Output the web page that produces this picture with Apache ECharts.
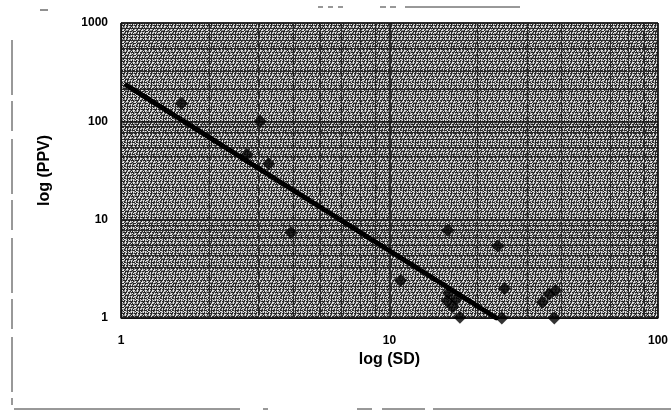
<!DOCTYPE html>
<html>
<head>
<meta charset="utf-8">
<script src="https://cdn.jsdelivr.net/npm/echarts@6/dist/echarts.min.js"></script>
<style>
  html, body { margin: 0; padding: 0; background: #fff; }
  #chart { width: 671px; height: 413px; }
</style>
</head>
<body>
<div id="chart"></div>
<script>
// 散点数据 (SD, PPV)
var sdValues  = [1.68, 3.3, 2.95, 3.55, 4.3, 11.0, 16.5, 16.4, 16.6, 17.2, 17.7, 18.3, 25.3, 26.8, 26.2, 37.1, 39.3, 41.5, 41.1];
var ppvValues = [152, 100, 46, 37, 7.4, 2.4, 7.8, 1.5, 1.8, 1.3, 1.55, 1.02, 5.4, 2.0, 1.0, 1.45, 1.75, 1.9, 1.0];
// 趋势线两端
var trendSD  = [1.05, 25];
var trendPPV = [232, 1];
var xTicks = [1, 10, 100];
var yTicks = [1, 10, 100, 1000];

var points = sdValues.map(function (v, i) { return [v, ppvValues[i]]; });
var trend = trendSD.map(function (v, i) { return [v, trendPPV[i]]; });

// 扫描网点底纹 (固定图案)
var tileRows = [
    'kwgwkgwkgwgw',
    'kgkkkwkkgkkk',
    'gwwkgwgkwwgk',
    'kwgggwkgwgkw',
    'kkgkkkkwkkgk',
    'wkgwgkwwgkwg',
    'kgwwkgggkwwg',
    'gkkkwkkkkgkk',
    'gkwwgkwkgwgw',
    'kwggkgwkwgkw',
    'kkkwkkgkkkkg',
    'gwgkwwgkwkgw'
];
var tile = document.createElement('canvas');
tile.width = 12; tile.height = 12;
var tctx = tile.getContext('2d');
var tcol = { k: '#262626', g: '#8c8c8c', w: '#e6e6e6' };
tileRows.forEach(function (row, y) {
    for (var x = 0; x < row.length; x++) {
        tctx.fillStyle = tcol[row[x]];
        tctx.fillRect(x, y, 1, 1);
    }
});

var labelFont = { color: '#000', fontFamily: 'Liberation Sans', fontWeight: 'bold', fontSize: 12 };

var myChart = echarts.init(document.getElementById('chart'));
myChart.setOption({
    animation: false,
    backgroundColor: '#fff',
    grid: {
        left: 121, right: 12, top: 23, bottom: 95,
        show: true,
        backgroundColor: { image: tile, repeat: 'repeat' },
        borderColor: '#111',
        borderWidth: 1
    },
    xAxis: {
        type: 'log',
        logBase: 10,
        min: 1,
        max: 100,
        name: 'log (SD)',
        nameLocation: 'middle',
        nameGap: 33,
        nameTextStyle: { color: '#000', fontFamily: 'Liberation Sans', fontWeight: 'bold', fontSize: 16 },
        axisLine: { show: true, lineStyle: { color: '#111' } },
        axisTick: { show: false },
        axisLabel: Object.assign({ margin: 17, formatter: function (v) { return xTicks.indexOf(v) >= 0 ? String(v) : ''; } }, labelFont),
        splitLine: { show: true, lineStyle: { color: '#111', width: 1.5 } },
        minorTick: { show: false, splitNumber: 8 },
        minorSplitLine: { show: true, lineStyle: { color: '#2a2a2a', width: 1 } }
    },
    yAxis: {
        type: 'log',
        logBase: 10,
        min: 1,
        max: 1000,
        name: 'log (PPV)',
        nameLocation: 'middle',
        nameGap: 68,
        nameRotate: 90,
        nameTextStyle: { color: '#000', fontFamily: 'Liberation Sans', fontWeight: 'bold', fontSize: 16 },
        axisLine: { show: true, lineStyle: { color: '#111' } },
        axisTick: { show: false },
        axisLabel: Object.assign({ margin: 13, formatter: function (v) { return yTicks.indexOf(v) >= 0 ? String(v) : ''; } }, labelFont),
        splitLine: { show: true, lineStyle: { color: '#111', width: 1.5 } },
        minorTick: { show: false, splitNumber: 8 },
        minorSplitLine: { show: true, lineStyle: { color: '#2a2a2a', width: 1 } }
    },
    graphic: [
        // 扫描件边缘残留线条
        { type: 'line', shape: { x1: 40, y1: 10, x2: 48, y2: 10 }, style: { stroke: '#222', lineWidth: 1 } },
        { type: 'line', shape: { x1: 318, y1: 7, x2: 345, y2: 7 }, style: { stroke: '#333', lineWidth: 1, lineDash: [5, 5] } },
        { type: 'line', shape: { x1: 380, y1: 7, x2: 400, y2: 7 }, style: { stroke: '#333', lineWidth: 1, lineDash: [6, 4] } },
        { type: 'line', shape: { x1: 405, y1: 7, x2: 520, y2: 7 }, style: { stroke: '#333', lineWidth: 1 } },
        { type: 'line', shape: { x1: 12, y1: 40, x2: 12, y2: 405 }, style: { stroke: '#333', lineWidth: 1, lineDash: [55, 6, 30, 8] } },
        { type: 'line', shape: { x1: 14, y1: 409, x2: 240, y2: 409 }, style: { stroke: '#333', lineWidth: 1 } },
        { type: 'line', shape: { x1: 263, y1: 409, x2: 268, y2: 409 }, style: { stroke: '#333', lineWidth: 1 } },
        { type: 'line', shape: { x1: 357, y1: 409, x2: 372, y2: 409 }, style: { stroke: '#333', lineWidth: 1 } },
        { type: 'line', shape: { x1: 382, y1: 409, x2: 425, y2: 409 }, style: { stroke: '#333', lineWidth: 1 } },
        { type: 'line', shape: { x1: 433, y1: 409, x2: 671, y2: 409 }, style: { stroke: '#333', lineWidth: 1 } }
    ],
    series: [
        {
            name: 'trend',
            type: 'line',
            data: trend,
            symbol: 'none',
            lineStyle: { color: '#000', width: 5, cap: 'round' },
            z: 3
        },
        {
            name: 'data',
            type: 'scatter',
            data: points,
            symbol: 'diamond',
            symbolSize: 13,
            itemStyle: { color: '#000' },
            clip: false,
            z: 4
        }
    ]
});
</script>
</body>
</html>
